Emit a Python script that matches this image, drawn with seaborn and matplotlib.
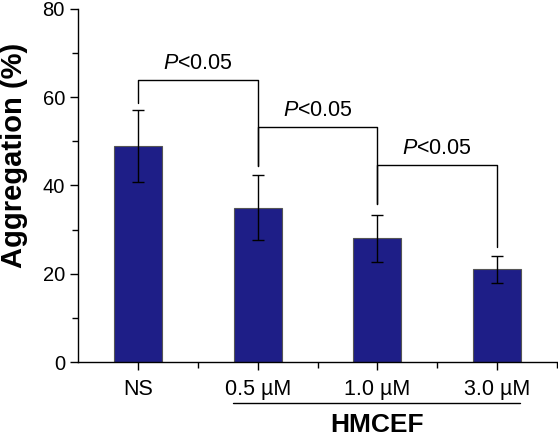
import matplotlib
matplotlib.use("Agg")
import matplotlib.pyplot as plt
import seaborn as sns
import numpy as np

grupos = ["NS", "0.5 µM", "1.0 µM", "3.0 µM"]
agregacion = [49, 35, 28, 21]
desvio = [8.1, 7.3, 5.4, 3.0]

# comparaciones: (grupo a, grupo b, altura barra, pie izq, pie der)
comparaciones = [(0, 1, 64, 58.7, 44.4),
                 (1, 2, 53.3, 44.4, 35.8),
                 (2, 3, 44.7, 35.8, 26.0)]
etiqueta_p = "$P$<0.05"

sns.set_style("ticks")
plt.rcParams['font.family'] = ['Liberation Sans', 'DejaVu Sans']
plt.rcParams['mathtext.fontset'] = 'custom'
plt.rcParams['mathtext.it'] = 'Liberation Sans:italic'
plt.rcParams['mathtext.rm'] = 'Liberation Sans'
plt.rcParams['text.color'] = 'black'
plt.rcParams['axes.labelcolor'] = 'black'
plt.rcParams['xtick.color'] = 'black'
plt.rcParams['ytick.color'] = 'black'

fig = plt.figure(figsize=(5.58, 4.38), dpi=100)
ax = fig.add_axes([0.14, 0.1735, 0.858, 0.806])

sns.barplot(x=grupos, y=agregacion, color='#1e1e87', saturation=1,
            width=0.4, edgecolor='#555555', linewidth=0.8, ax=ax)
ax.errorbar(range(len(grupos)), agregacion, yerr=desvio, fmt='none',
            ecolor='black', elinewidth=1, capsize=4, capthick=1)

for a, b, h, pa, pb in comparaciones:
    ax.plot([a, a, b, b], [pa, h, h, pb], color='black', lw=1)
    ax.text((a + b) / 2, h + 1.3, etiqueta_p, ha='center', va='bottom',
            fontsize=15.5)

ax.set_ylim(0, 80)
ax.set_xlim(-0.5, 3.5)
ax.set_yticks([0, 20, 40, 60, 80])
ax.set_yticks([10, 30, 50, 70], minor=True)
ax.set_xticks([0.5, 1.5, 2.5, 3.5], minor=True)
ax.tick_params(axis='y', which='major', labelsize=14.5)
ax.tick_params(axis='x', which='major', labelsize=15.5, pad=6)
ax.tick_params(axis='both', which='major', length=6, width=1, direction='out')
ax.tick_params(axis='both', which='minor', length=4, width=1, direction='out')
sns.despine(ax=ax)
for s in ['left', 'bottom']:
    ax.spines[s].set_color('black')
    ax.spines[s].set_linewidth(1)

ax.set_ylabel('Aggregation (%)', fontsize=21, fontweight='bold')
ax.yaxis.set_label_coords(-0.104, 0.585)
ax.set_xlabel('')

# linea y titulo del grupo HMCEF
fig.add_artist(plt.Line2D([233 / 558, 520 / 558], [1 - 403 / 438, 1 - 403 / 438],
                          color='black', lw=1))
fig.text(377 / 558, 1 - 425 / 438, 'HMCEF', ha='center', va='center',
         fontsize=19, fontweight='bold')

fig.savefig('out.png', dpi=100)
